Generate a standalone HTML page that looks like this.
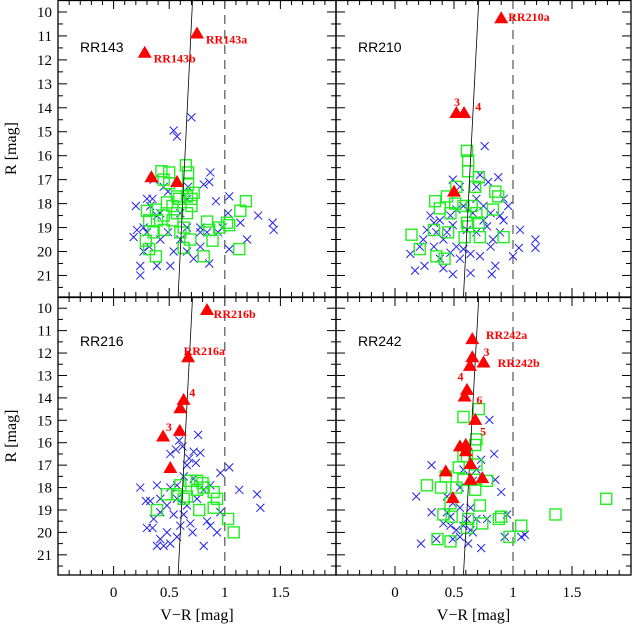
<!DOCTYPE html>
<html><head><meta charset="utf-8"><style>
html,body{margin:0;padding:0;background:#fff;}
svg{display:block;}
</style></head><body>
<svg id="fig" width="633" height="627" viewBox="0 0 633 627" xmlns="http://www.w3.org/2000/svg"></svg>
<script>
// ---------- data (V-R, R) ----------
const rr143Cx=[0.70,0.54,0.57,0.18,0.21,0.24,0.24,0.20,0.35,0.27,0.39,0.54,0.51,0.39,0.78,0.66,0.72,0.86,0.81,0.87,0.92,1.04,1.03,1.04,1.14,1.20,1.30,1.43,1.44,0.94,0.86,0.36,0.45,0.30,0.32,0.49,0.60,0.66,0.78,0.33,0.42,0.60,0.78,0.27,0.66,0.49,0.42,0.30,0.67,0.84,0.98];
const rr143Cy=[14.4,14.95,15.2,19.4,19.1,20.6,21.0,18.1,17.8,19.0,18.5,20.0,20.6,20.6,19.8,20.0,20.3,17.1,17.2,16.7,17.9,17.7,18.4,19.9,18.8,19.5,18.5,18.8,19.1,19.2,20.5,17.0,17.3,19.2,19.8,19.2,18.4,19.0,19.0,18.1,18.4,19.5,19.2,20.0,17.8,17.5,19.5,17.8,17.3,19.2,19.0];
const rr143Sx=[0.65,0.50,0.43,0.67,0.45,0.67,0.72,0.70,0.59,0.53,0.38,0.30,0.32,0.45,0.53,0.66,0.70,0.63,0.45,0.36,0.29,0.32,0.38,0.60,0.63,0.69,0.81,0.84,0.86,0.89,0.95,1.02,1.04,1.14,1.19,1.13,0.50,0.57,0.66,0.48,0.57,0.39];
const rr143Sy=[16.4,16.7,16.65,16.7,17.0,17.2,17.55,17.8,17.8,18.1,18.25,18.3,18.7,18.5,18.7,18.4,18.1,19.0,19.1,19.2,19.55,19.9,20.2,19.2,19.85,19.5,20.2,18.75,19.1,19.55,19.0,18.8,18.9,18.3,17.9,19.9,17.15,17.7,17.7,17.95,18.4,18.7];
const rr143Tx=[0.28,0.75,0.34,0.57];
const rr143Ty=[11.7,10.9,16.9,17.1];

const rr210Cx=[0.76,0.72,0.875,0.79,0.49,0.55,0.69,0.96,0.89,0.92,0.81,0.75,0.30,0.33,0.38,0.47,0.49,0.27,0.24,0.33,0.41,0.52,0.58,0.64,0.72,0.81,0.83,0.89,1.06,1.05,1.19,1.19,1.00,0.85,0.82,0.64,0.49,0.41,0.25,0.17,0.13,0.21,0.35,0.44,0.61,0.69,0.75,0.66,0.58,0.52,0.69,0.92,0.78,0.38,0.55,0.47];
const rr210Cy=[15.6,16.8,16.9,17.1,17.0,17.3,17.3,18.1,18.5,18.7,18.4,18.1,18.5,18.8,18.7,18.5,18.9,19.1,19.5,19.8,19.5,19.8,19.9,20.1,20.2,19.8,19.5,19.2,19.1,19.85,19.5,19.85,20.2,20.6,20.95,20.9,20.95,20.7,20.6,20.8,20.1,19.8,19.2,19.2,19.1,19.2,18.7,18.4,18.1,18.25,17.8,17.8,18.95,20.3,20.3,20.05];
const rr210Sx=[0.61,0.62,0.62,0.71,0.68,0.52,0.44,0.85,0.875,0.34,0.38,0.51,0.58,0.65,0.69,0.83,0.47,0.61,0.71,0.33,0.45,0.59,0.72,0.92,0.14,0.21,0.35,0.42,0.62];
const rr210Sy=[15.8,16.2,16.65,16.9,17.3,17.3,17.7,17.5,17.7,17.9,18.2,18.0,18.1,18.1,18.4,18.25,18.4,18.8,18.8,19.1,19.2,19.4,19.4,19.4,19.3,19.9,20.2,20.3,18.95];
const rr210Tx=[0.90,0.52,0.585,0.50];
const rr210Ty=[10.26,14.22,14.22,17.5];

const rr216Cx=[0.76,0.62,0.59,0.51,0.72,0.78,0.68,0.74,0.96,1.04,1.13,1.29,1.32,0.24,0.39,0.29,0.42,0.51,0.57,0.63,0.42,0.36,0.30,0.48,0.42,0.51,0.45,0.57,0.60,0.69,0.84,0.87,0.93,0.81,0.71,0.66,0.75,0.81,0.57,0.48,0.33,0.54,0.63,0.56,0.66,0.72,0.87,0.96,0.35,0.39];
const rr216Cy=[15.65,16.17,15.9,16.5,16.4,16.45,16.7,16.9,17.35,17.1,18.1,18.3,18.9,18.0,17.9,18.6,18.5,18.0,17.9,17.5,19.1,19.4,19.8,20.0,20.3,20.5,20.6,20.2,19.7,19.6,19.5,19.7,20.0,20.6,20.0,18.8,18.5,18.1,18.5,18.8,18.6,19.2,19.2,16.3,17.0,17.6,17.9,19.1,19.8,20.6];
const rr216Sx=[0.68,0.75,0.80,0.60,0.81,0.48,0.57,0.66,0.90,0.93,0.90,0.63,0.39,0.77,1.03,1.08,0.75];
const rr216Sy=[17.7,17.7,17.8,17.9,18.0,18.3,18.3,18.4,18.2,18.5,18.9,18.5,19.0,19.0,19.4,20.0,18.1];
const rr216Tx=[0.84,0.67,0.63,0.60,0.595,0.445,0.51];
const rr216Ty=[10.08,12.19,14.09,14.46,15.47,15.72,17.13];

const rr242Cx=[0.80,0.84,0.31,0.73,0.69,0.85,0.90,0.18,0.31,0.44,0.49,0.55,0.64,0.69,0.78,0.95,0.41,0.47,0.52,0.58,0.64,0.66,0.35,0.49,0.55,0.62,0.73,0.22,0.93,1.07,1.10,0.61,0.47,0.55,0.66,0.58,0.44];
const rr242Cy=[14.98,16.5,17.0,16.76,17.2,17.65,18.2,18.4,19.1,18.4,18.7,18.9,18.9,19.4,19.4,19.2,19.6,19.7,19.9,19.7,19.9,20.0,20.3,20.3,20.2,20.5,20.7,20.5,20.2,20.2,20.1,19.4,19.3,18.0,17.7,17.2,19.1];
const rr242Sx=[0.71,0.58,0.69,0.68,0.61,0.54,0.69,0.43,0.58,0.67,0.78,0.27,0.39,0.52,0.68,0.47,0.72,0.41,0.48,0.62,0.74,0.88,0.90,0.61,1.07,1.36,1.79,0.36,0.47,0.97,0.58];
const rr242Sy=[14.5,14.85,15.85,16.1,16.6,17.1,16.97,17.5,17.65,17.65,17.7,17.9,18.0,18.0,18.1,18.7,18.8,19.2,19.3,19.4,19.6,19.4,19.3,19.8,19.7,19.2,18.5,20.3,20.4,20.2,16.6];
const rr242Tx=[0.655,0.655,0.75,0.635,0.61,0.59,0.68,0.55,0.60,0.60,0.64,0.43,0.64,0.74,0.49];
const rr242Ty=[11.38,12.19,12.42,12.57,13.64,13.94,14.98,16.16,16.09,16.38,16.95,17.28,17.65,17.58,18.47];

const xTickLabels=["0","0.5","1","1.5"];
const xTickValues=[0,0.5,1,1.5];
const yTickValues=[10,11,12,13,14,15,16,17,18,19,20,21];
const refLineX=[0.71,0.58];
const refLineR=[9.5,21.9];
const dashX=1.0;

// ---------- layout ----------
const NS="http://www.w3.org/2000/svg";
const svg=document.getElementById('fig');
const X0=-0.5,X1=2.0,R0=9.5,R1=21.9;
function el(tag,attrs,parent){const e=document.createElementNS(NS,tag);for(const k in attrs)e.setAttribute(k,attrs[k]);(parent||svg).appendChild(e);return e;}

const panels=[
 {name:"RR143",x:58,y:0,w:278,h:297,cx:rr143Cx,cy:rr143Cy,sx:rr143Sx,sy:rr143Sy,tx:rr143Tx,ty:rr143Ty,left:true,bottom:false,
  labels:[["RR143a",0.83,11.15],["RR143b",0.36,11.95]]},
 {name:"RR210",x:336,y:0,w:295,h:297,cx:rr210Cx,cy:rr210Cy,sx:rr210Sx,sy:rr210Sy,tx:rr210Tx,ty:rr210Ty,left:false,bottom:false,
  labels:[["RR210a",0.96,10.2],["3",0.50,13.75],["4",0.68,13.95]]},
 {name:"RR216",x:58,y:297,w:278,h:278,cx:rr216Cx,cy:rr216Cy,sx:rr216Sx,sy:rr216Sy,tx:rr216Tx,ty:rr216Ty,left:true,bottom:true,
  labels:[["RR216b",0.90,10.25],["RR216a",0.63,11.9],["4",0.68,13.75],["3",0.47,15.3]]},
 {name:"RR242",x:336,y:297,w:295,h:278,cx:rr242Cx,cy:rr242Cy,sx:rr242Sx,sy:rr242Sy,tx:rr242Tx,ty:rr242Ty,left:false,bottom:true,
  labels:[["RR242a",0.77,11.2],["3",0.75,11.95],["RR242b",0.87,12.45],["4",0.53,13.05],["6",0.69,14.1],["5",0.72,15.5]]}
];

panels.forEach(p=>{
  const g=el('g',{});
  
  
  const xs=v=>p.x+(v-X0)/(X1-X0)*p.w;
  const ys=v=>p.y+(v-R0)/(R1-R0)*p.h;
  const tk=el('g',{stroke:'#000','stroke-width':1},g);
  
  
  for(let r=10;r<=21.5;r+=0.5){const major=Number.isInteger(r);const L=major?9:5;const y=ys(r);
    el('line',{x1:p.x,x2:p.x+L,y1:y,y2:y},tk);el('line',{x1:p.x+p.w-L,x2:p.x+p.w,y1:y,y2:y},tk);}
  for(let i=-4;i<=20;i++){const v=i/10;const major=(i%5===0);const L=major?9:5;const x=xs(v);
    el('line',{x1:x,x2:x,y1:p.y,y2:p.y+L},tk);el('line',{x1:x,x2:x,y1:p.y+p.h-L,y2:p.y+p.h},tk);}
  const d=el('line',{x1:xs(dashX),x2:xs(dashX),y1:p.y,y2:p.y+p.h,stroke:'#555','stroke-width':1.2,'stroke-dasharray':'9,6'},g);
  
  
  const cg=el('g',{stroke:'#2222ee','stroke-width':1},g);
  
  
  p.cx.forEach((v,i)=>{const x=xs(v),y=ys(p.cy[i]),s=4;
    const pth=el('path',{d:`M${x-s},${y-s}L${x+s},${y+s}M${x-s},${y+s}L${x+s},${y-s}`},cg);
    
    });
  const sg=el('g',{stroke:'#22ee22','stroke-width':1.4,fill:'none'},g);
  
  
  p.sx.forEach((v,i)=>{const x=xs(v),y=ys(p.sy[i]),s=5.5;
    const r=el('rect',{x:x-s,y:y-s,width:2*s,height:2*s},sg);
    
    });
  const rl=el('line',{x1:xs(refLineX[0]),y1:ys(refLineR[0]),x2:xs(refLineX[1]),y2:ys(refLineR[1]),stroke:'#000','stroke-width':0.8},g);
  
  
  const tg=el('g',{fill:'#ff0000'},g);
  
  
  p.tx.forEach((v,i)=>{const x=xs(v),y=ys(p.ty[i]);
    const t=el('polygon',{points:`${x},${y-7} ${x-7},${y+5} ${x+7},${y+5}`},tg);
    
    });
  p.labels.forEach(l=>{const t=el('text',{x:xs(l[1]),y:ys(l[2])+4,fill:'#ff0000','font-family':'Liberation Serif, serif','font-size':12,'font-weight':'bold'},g);
    t.textContent=l[0];
    
    });
  const nm=el('text',{x:p.x+22,y:p.y+(p.bottom?49:52),'font-family':'Liberation Sans, sans-serif','font-size':14,fill:'#000'},g);
  nm.textContent=p.name;
  
  
  el('rect',{x:p.x,y:p.y+0.5,width:p.w,height:p.h-0.5,fill:'none',stroke:'#000','stroke-width':1.3},g);
  if(p.left){
    yTickValues.forEach(v=>{const t=el('text',{x:p.x-6,y:ys(v)+5,'text-anchor':'end','font-family':'Liberation Serif, serif','font-size':15},g);
      t.textContent=String(v);
      
      });
    const cy=p.y+p.h/2;
    const yl=el('text',{x:16,y:cy,transform:`rotate(-90 16 ${cy})`,'text-anchor':'middle','font-family':'Liberation Serif, serif','font-size':16},g);
    yl.textContent='R [mag]';
    
    
  }
  if(p.bottom){
    xTickValues.forEach((v,i)=>{const t=el('text',{x:xs(v),y:597,'text-anchor':'middle','font-family':'Liberation Serif, serif','font-size':15},g);
      t.textContent=xTickLabels[i];
      
      });
    const xl=el('text',{x:p.x+p.w/2+(p.left?0:-10),y:620,'text-anchor':'middle','font-family':'Liberation Serif, serif','font-size':16},g);
    xl.textContent='V\u2212R [mag]';
    
    
  }
});
</script>
</body></html>
